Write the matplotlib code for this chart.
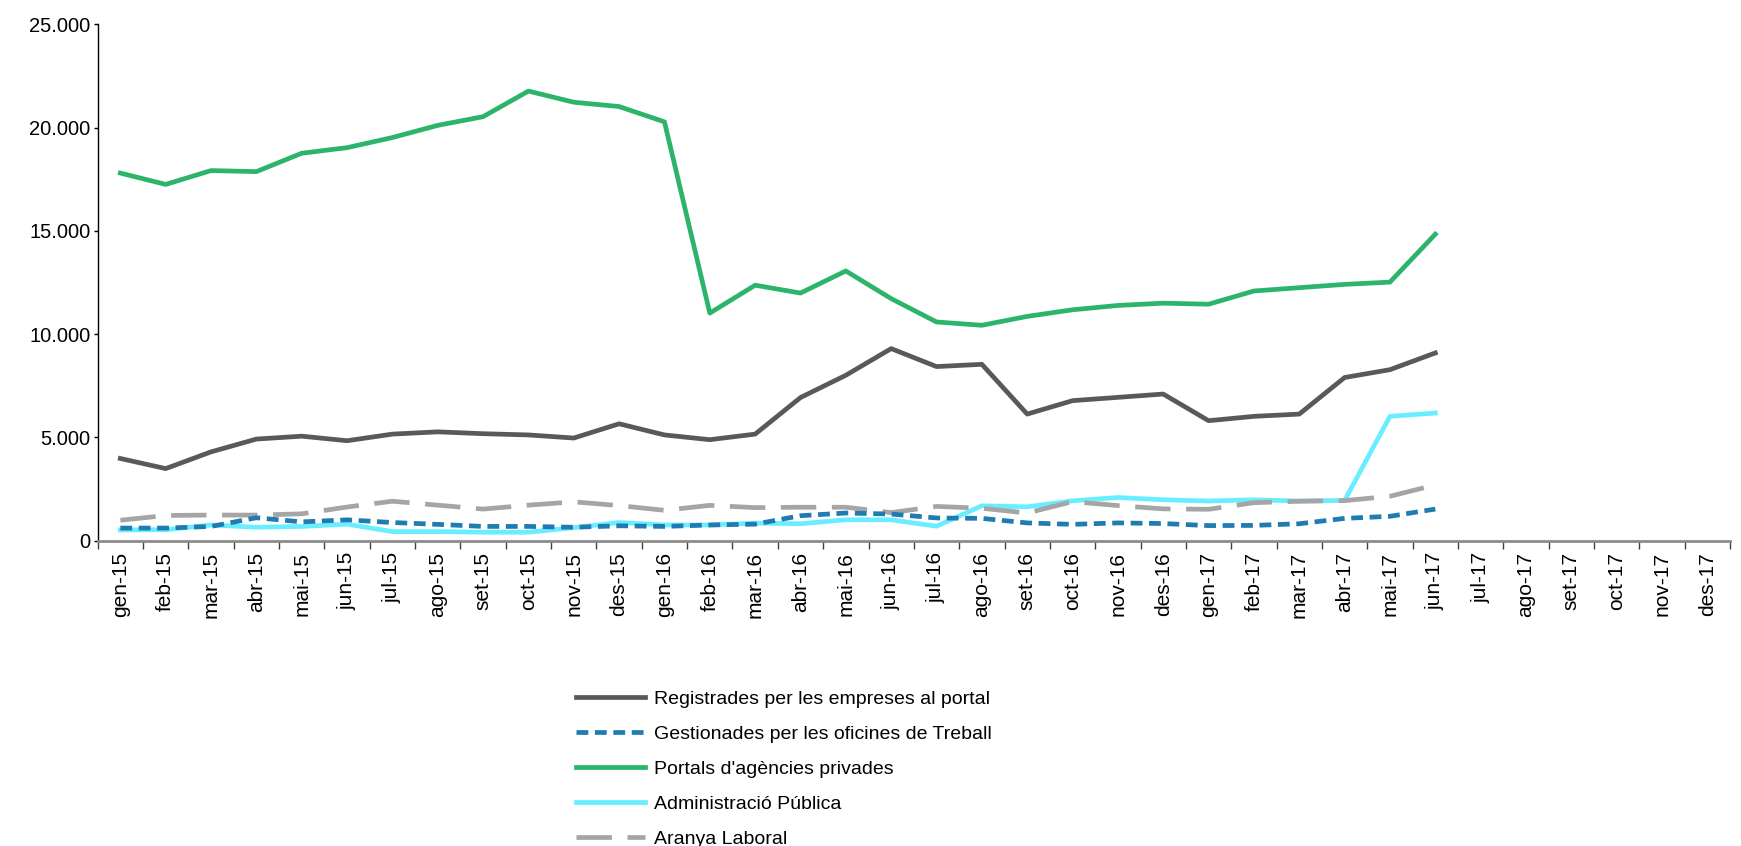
import matplotlib
matplotlib.use("Agg")
import matplotlib.pyplot as plt
import numpy as np

months = ["gen-15", "feb-15", "mar-15", "abr-15", "mai-15", "jun-15", "jul-15", "ago-15",
          "set-15", "oct-15", "nov-15", "des-15", "gen-16", "feb-16", "mar-16", "abr-16",
          "mai-16", "jun-16", "jul-16", "ago-16", "set-16", "oct-16", "nov-16", "des-16",
          "gen-17", "feb-17", "mar-17", "abr-17", "mai-17", "jun-17", "jul-17", "ago-17",
          "set-17", "oct-17", "nov-17", "des-17"]

registrades = [3980, 3490, 4300, 4920, 5060, 4840, 5160, 5270, 5180, 5120, 4970, 5660,
               5120, 4890, 5160, 6930, 8010, 9300, 8430, 8540, 6130, 6780, 6940, 7100,
               5810, 6020, 6130, 7900, 8280, 9090]
gestionades = [610, 610, 690, 1110, 910, 1010, 880, 790, 690, 690, 650, 720,
               690, 760, 800, 1210, 1340, 1290, 1100, 1080, 860, 790, 860, 830,
               730, 740, 820, 1080, 1180, 1530]
portals = [17800, 17250, 17920, 17870, 18760, 19030, 19520, 20110, 20530, 21770, 21230, 21020,
           20280, 11020, 12370, 11990, 13060, 11720, 10590, 10430, 10860, 11180, 11390, 11500,
           11450, 12090, 12250, 12410, 12520, 14840]
administracio = [520, 530, 760, 650, 690, 800, 440, 440, 410, 410, 630, 880,
                 760, 760, 850, 820, 1010, 1010, 700, 1690, 1640, 1930, 2090, 1980,
                 1920, 1980, 1920, 1950, 6020, 6180]
aranya = [990, 1220, 1240, 1240, 1300, 1630, 1910, 1720, 1530, 1720, 1880, 1700,
          1470, 1710, 1600, 1620, 1620, 1360, 1660, 1570, 1340, 1890, 1700, 1540,
          1520, 1840, 1910, 1940, 2150, 2700]

labels = ["Registrades per les empreses al portal",
          "Gestionades per les oficines de Treball",
          "Portals d'agències privades",
          "Administració Pública",
          "Aranya Laboral"]

plt.rcParams['font.family'] = ['Liberation Sans', 'DejaVu Sans']

fig = plt.figure(figsize=(17.41, 8.46), dpi=100)
ax = fig.add_axes([0.0561, 0.3609, 0.9376, 0.6103])

x = np.arange(len(registrades))
lw = 3.4
l1, = ax.plot(x, registrades, color="#595959", lw=lw, label=labels[0])
l2, = ax.plot(x, gestionades, color="#1f7bb0", lw=lw, dashes=(2.5, 1.4), dash_capstyle="butt", label=labels[1])
l3, = ax.plot(x, portals, color="#2bb46a", lw=lw, label=labels[2])
l4, = ax.plot(x, administracio, color="#6aeeff", lw=lw, label=labels[3])
l5, = ax.plot(x, aranya, color="#a5a5a5", lw=lw, dashes=(7.5, 3.3), dash_capstyle="butt", label=labels[4])
l2.set_zorder(3)
l5.set_zorder(2.5)

ax.set_xlim(-0.5, len(months) - 0.5)
ax.set_ylim(0, 25000)
yt = np.arange(0, 25001, 5000)
ax.set_yticks(yt)
ax.set_yticklabels([f"{int(v):,}".replace(",", ".") for v in yt], fontsize=14.5)

ax.set_xticks(np.arange(len(months)))
ax.set_xticklabels(months, rotation=90, fontsize=15)
ax.set_xticks(np.arange(-0.5, len(months), 1), minor=True)
ax.tick_params(axis="x", which="major", length=0, pad=8)
ax.tick_params(axis="x", which="minor", length=6, width=1, color="#404040")
ax.tick_params(axis="y", which="major", length=3, width=1, color="black", pad=2)

for s in ["top", "right"]:
    ax.spines[s].set_visible(False)
ax.spines["left"].set_linewidth(1)
ax.spines["bottom"].set_color("#8c8c8c")
ax.spines["bottom"].set_linewidth(2)

leg = fig.legend(handles=[l1, l2, l3, l4, l5], labels=labels, loc="upper left",
                 bbox_to_anchor=(0.331, 0.184), frameon=False, fontsize=14,
                 handlelength=3.55, handletextpad=0.43, labelspacing=0.89,
                 borderpad=0, borderaxespad=0)

fig.savefig("out.png", dpi=100)
